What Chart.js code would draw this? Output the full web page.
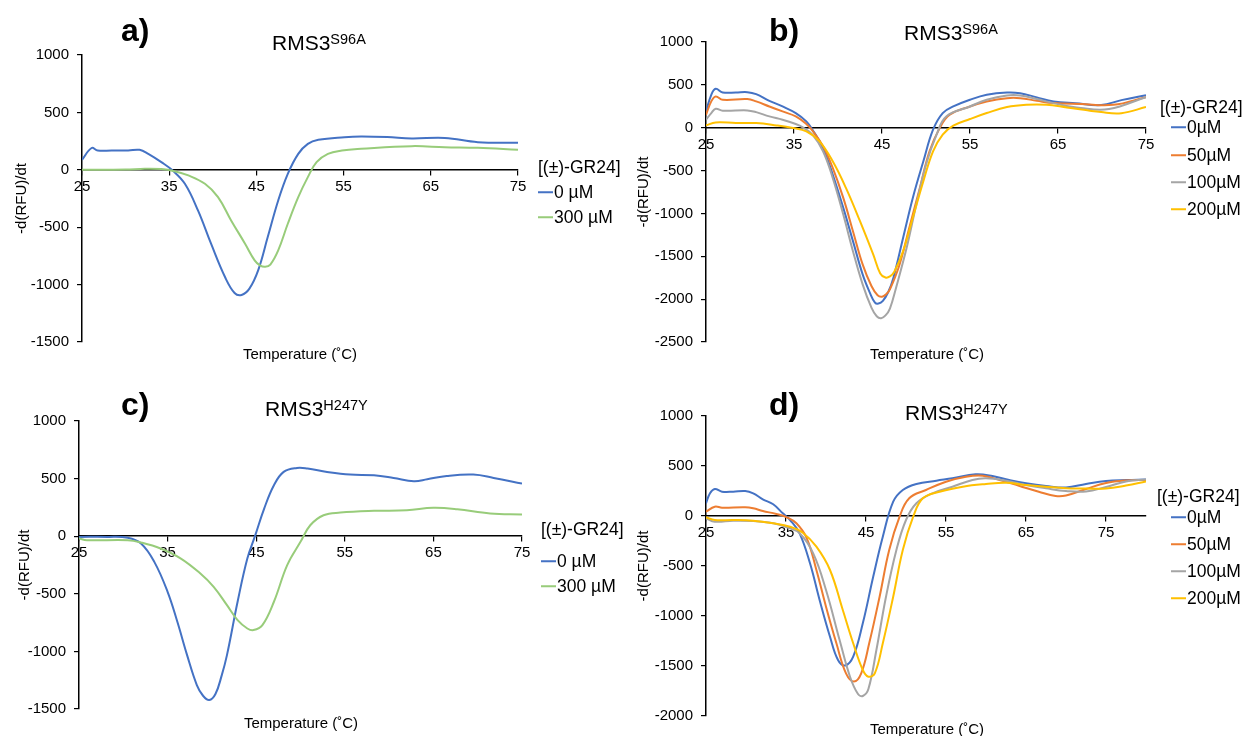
<!DOCTYPE html>
<html>
<head>
<meta charset="utf-8">
<script src="https://cdn.jsdelivr.net/npm/chart.js@4.4.1/dist/chart.umd.min.js"></script>
<style>
  body { margin: 0; background: #fff; font-family: 'Liberation Sans', Arial, sans-serif; color: #000; }
  #fig { position: relative; width: 1244px; height: 736px; overflow: hidden; }
  #fig canvas { position: absolute; }
  .lbl { position: absolute; line-height: 1; white-space: nowrap; z-index: 2; }
  .tag { font-weight: bold; font-size: 32px; }
  .ttl { font-size: 21px; }
  .ttl span { font-size: 14.5px; position: relative; top: -6.5px; }
  .xt { font-size: 15px; transform: translate(-50%, -50%); }
  .leg { font-size: 17.5px; transform: translateY(-50%); }
  .leg i { display: inline-block; width: 15px; height: 2px; vertical-align: middle; margin-right: 1px; position: relative; top: -1px; }
</style>
</head>
<body>
<div id="fig"></div>
<script>
// melt curves, temperature (°C) and -d(RFU)/dt per series

// a) RMS3 S96A
const aT_0 = [25, 26.1, 26.8, 28.4, 30.3, 31.6, 32.6, 34.1, 35.4, 36.8, 38.3, 39.8, 41.4, 42.5, 43.3, 44.2, 45.2, 46.3, 47.5, 48.6, 49.8, 50.9, 52.1, 55.1, 57, 60, 62.8, 66.6, 70.4, 75];
const aY_0 = [87, 190, 168, 168, 168, 174, 139, 67, -6, -122, -354, -644, -934, -1073, -1090, -1035, -876, -586, -267, -35, 139, 226, 261, 284, 290, 285, 273, 278, 241, 235];
const aT_300 = [25, 30, 32.2, 34.1, 35.6, 37.2, 39.1, 40.6, 42.1, 43.7, 44.8, 45.4, 46, 46.6, 47.5, 48.6, 49.8, 50.9, 51.9, 53.2, 54.8, 57, 62.8, 66.6, 70.4, 75];
const aY_300 = [0, 2, 9, 6, -12, -49, -122, -238, -441, -644, -789, -832, -845, -825, -702, -470, -238, -64, 67, 139, 168, 183, 206, 197, 191, 174];

// b) RMS3 S96A, dose series
const bT_0 = [25, 25.6, 26.1, 26.9, 28.4, 29.7, 30.7, 32.2, 33.7, 35.2, 36.4, 37.1, 38.3, 39.4, 40.6, 41.7, 42.8, 43.6, 44.2, 44.6, 45.1, 45.7, 46.3, 47.4, 48.5, 49.7, 50.8, 51.9, 53.1, 55, 56.9, 59.2, 60.7, 62.6, 64.5, 67, 69.9, 72.2, 75];
const bY_0 = [190, 384, 454, 411, 411, 415, 392, 314, 248, 171, 74, -23, -237, -547, -935, -1323, -1711, -1920, -2040, -2052, -2020, -1920, -1750, -1284, -819, -392, -23, 171, 248, 326, 384, 411, 403, 353, 306, 285, 265, 322, 380];
const bT_50 = [25, 25.6, 26.1, 26.9, 29.7, 30.7, 32.2, 33.7, 35.2, 36.4, 37.1, 38.3, 39.4, 40.6, 41.7, 42.8, 43.8, 44.5, 45, 45.5, 45.9, 47, 48.1, 49.3, 50.4, 51.6, 52.7, 55, 56.9, 59.2, 60.7, 62.6, 64.5, 67.6, 71.3, 75];
const bY_50 = [151, 307, 365, 326, 334, 307, 248, 190, 132, 43, -35, -217, -469, -819, -1207, -1595, -1847, -1955, -1972, -1940, -1886, -1595, -1168, -702, -275, 4, 151, 248, 307, 345, 345, 314, 287, 276, 267, 357];
const bT_100 = [25, 25.6, 26.1, 26.9, 29.7, 30.7, 32.2, 33.7, 35.2, 36, 37.1, 38.3, 39.4, 40.6, 41.7, 42.8, 43.8, 44.4, 44.9, 45.4, 45.9, 46.6, 47.8, 48.9, 50, 51.2, 52.3, 55, 56.9, 59.2, 60.7, 62.6, 64.5, 67.6, 70.8, 75];
const bY_100 = [93, 171, 221, 198, 202, 182, 132, 93, 43, 4, -81, -275, -586, -1013, -1440, -1827, -2099, -2200, -2222, -2190, -2110, -1866, -1401, -896, -431, -81, 132, 248, 326, 376, 376, 334, 287, 229, 218, 357];
const bT_200 = [25, 26.1, 28.4, 30.7, 33, 34.9, 36.4, 37.9, 39.4, 40.9, 42.5, 44, 44.8, 45.4, 45.9, 46.4, 47.4, 48.5, 49.7, 50.8, 51.9, 53.1, 55, 56.9, 59.2, 61.4, 63.7, 66, 69.9, 72.2, 75];
const bY_200 = [27, 62, 54, 54, 27, -4, -43, -159, -392, -702, -1090, -1478, -1700, -1748, -1735, -1680, -1440, -1051, -625, -275, -81, 23, 101, 171, 241, 268, 268, 237, 183, 170, 241];

// c) RMS3 H247Y
const cT_0 = [25, 28.2, 30.5, 32, 33.5, 35, 36.1, 37.2, 38.3, 39, 39.7, 40.4, 41.1, 41.7, 42.9, 44, 44.9, 45.9, 47, 48.1, 49.6, 50.8, 53, 55.6, 58.3, 60.5, 62.8, 64.3, 66.5, 69.5, 71.8, 75];
const cY_0 = [-6, -6, -14, -64, -223, -483, -743, -1032, -1292, -1385, -1422, -1370, -1210, -1032, -569, -194, 9, 240, 442, 558, 592, 587, 558, 535, 529, 506, 477, 494, 523, 535, 506, 457];
const cT_300 = [25, 25.9, 30.5, 32, 34.2, 36.5, 38.7, 40.2, 41.7, 42.9, 44, 44.7, 45.7, 47, 48.5, 50, 51.1, 52.6, 54.5, 58.3, 62, 65, 67.7, 71.4, 75];
const cY_300 = [-20, -35, -35, -55, -107, -194, -324, -439, -598, -728, -801, -815, -772, -569, -251, -49, 95, 182, 205, 220, 225, 246, 234, 197, 188];

// d) RMS3 H247Y, dose series
const dT_0 = [25, 25.5, 26.1, 27, 28.4, 29.9, 30.9, 32.1, 33.4, 34.6, 35.5, 36.7, 38, 39.2, 40.5, 41.5, 42.4, 43.4, 44.6, 45.9, 47.1, 48.4, 49.6, 51.3, 53.8, 55.8, 58.7, 60.8, 62.9, 65, 67.5, 70, 72.5, 75, 77.5, 80];
const dY_0 = [127, 227, 270, 243, 243, 250, 227, 167, 117, 27, -40, -173, -473, -840, -1207, -1440, -1495, -1407, -1073, -607, -207, 143, 260, 320, 353, 377, 417, 400, 360, 327, 300, 285, 320, 350, 360, 365];
const dT_50 = [25, 26.1, 27, 29.9, 30.9, 32.1, 33.8, 35.1, 36.3, 37.6, 38.8, 40, 41.3, 42.5, 43.5, 44.4, 45.4, 46.7, 47.9, 49.2, 50.4, 52.5, 55, 57.5, 59.6, 61.7, 64.2, 66.6, 68.7, 70, 72.5, 75, 77.5, 80];
const dY_50 = [43, 93, 83, 87, 77, 50, 20, -13, -73, -223, -540, -907, -1273, -1573, -1655, -1573, -1273, -807, -340, -7, 177, 260, 343, 393, 403, 360, 300, 243, 200, 205, 270, 330, 355, 360];
const dT_100 = [25, 26.1, 28.4, 30.9, 33.4, 35.1, 36.7, 38.4, 40, 41.7, 43, 44, 44.6, 45.3, 46.3, 47.5, 48.8, 50, 51.3, 53.3, 55.8, 58.3, 60, 62.5, 65, 67.5, 70, 72.5, 75, 77.5, 80];
const dY_100 = [-23, -57, -47, -50, -73, -113, -173, -373, -740, -1240, -1607, -1780, -1800, -1730, -1340, -807, -340, -40, 127, 227, 293, 360, 377, 353, 310, 277, 250, 245, 290, 345, 365];
const dT_200 = [25, 26.1, 28.4, 30.9, 33.4, 35.5, 37.1, 38.8, 40.5, 42.1, 43.4, 44.6, 45.3, 46.1, 47.1, 48.4, 49.6, 50.9, 52.1, 54.2, 57.1, 60, 62.5, 65, 67.5, 70, 72.5, 75, 77.5, 80];
const dY_200 = [-13, -40, -40, -47, -73, -107, -167, -307, -540, -940, -1273, -1540, -1607, -1573, -1273, -807, -340, -7, 177, 243, 293, 320, 333, 310, 293, 277, 275, 275, 305, 345];

// tick values and axis ends
const xTicks = [25, 35, 45, 55, 65, 75];
const xMaxABC = 75;
const xMaxD = 80;
const yTicksAC = [-1500, -1000, -500, 0, 500, 1000];
const yTicksB = [-2500, -2000, -1500, -1000, -500, 0, 500, 1000];
const yTicksD = [-2000, -1500, -1000, -500, 0, 500, 1000];

// legend text
const legendTitle = '[(±)-GR24]';
const dosesAC = ['0 µM', '300 µM'];
const dosesBD = ['0µM', '50µM', '100µM', '200µM'];
const colorsAC = ['#4472C4', '#98CC7A'];
const colorsBD = ['#4472C4', '#ED7D31', '#A5A5A5', '#FFC000'];

Chart.defaults.font.family = "'Liberation Sans', Arial, sans-serif";
Chart.defaults.color = '#000';

const fig = document.getElementById('fig');

function addText(cls, x, y, html) {
  const el = document.createElement('div');
  el.className = 'lbl ' + cls;
  el.style.left = x + 'px';
  el.style.top = y + 'px';
  el.innerHTML = html;
  fig.appendChild(el);
}

function addLegend(titleX, lineX, titleY, rowYs, labels, colors) {
  addText('leg', titleX, titleY, legendTitle);
  labels.forEach((lab, i) => {
    addText('leg', lineX, rowYs[i], '<i style="background:' + colors[i] + '"></i>' + lab);
  });
}

function zip(ts, ys) {
  return ts.map((t, i) => ({ x: t, y: ys[i] }));
}

function makePanel(p) {
  const cv = document.createElement('canvas');
  cv.width = p.w;
  cv.height = p.h;
  cv.style.left = p.left + 'px';
  cv.style.top = p.top + 'px';
  fig.appendChild(cv);

  const n = p.series.length;
  const datasets = p.series.map((s, i) => ({
    label: s.label,
    data: zip(s.t, s.y),
    borderColor: s.color,
    borderWidth: 2,
    pointRadius: 0,
    tension: 0.4,
    fill: false,
    order: n - i   // later series drawn on top
  }));

  new Chart(cv.getContext('2d'), {
    type: 'line',
    data: { datasets },
    options: {
      responsive: false,
      animation: false,
      layout: {
        autoPadding: false,
        padding: { left: 0, top: p.area.t, right: p.w - p.area.r, bottom: p.h - p.area.b }
      },
      plugins: { legend: { display: false }, tooltip: { enabled: false } },
      scales: {
        x: {
          type: 'linear',
          position: { y: 0 },
          min: xTicks[0],
          max: p.xMax,
          afterBuildTicks: (s) => { s.ticks = xTicks.map(v => ({ value: v })); },
          ticks: {
            autoSkip: false,
            maxRotation: 0,
            padding: 3,
            font: { size: 15 },
            callback: (v) => String(v)
          },
          grid: { drawOnChartArea: false, tickLength: 5, color: '#000', lineWidth: 1.2 },
          border: { color: '#000', width: 1.5 }
        },
        y: {
          min: p.yTicks[0],
          max: p.yTicks[p.yTicks.length - 1],
          afterBuildTicks: (s) => { s.ticks = p.yTicks.map(v => ({ value: v })); },
          afterFit: (s) => { s.width = p.area.l; },
          ticks: { padding: 8, font: { size: 15 }, callback: (v) => String(v) },
          grid: { drawOnChartArea: false, tickLength: 5, color: '#000', lineWidth: 1.2 },
          border: { color: '#000', width: 1.5 },
          title: {
            display: true,
            text: '-d(RFU)/dt',
            font: { size: 15 },
            padding: { top: p.yTitlePad, bottom: 0 }
          }
        }
      }
    }
  });
}

function series(ts, ys, labels, colors) {
  return ts.map((t, i) => ({ t, y: ys[i], label: labels[i], color: colors[i] }));
}

makePanel({
  left: 0, top: 0, w: 600, h: 368,
  area: { l: 82, t: 55, r: 518, b: 342 }, yTitlePad: 13,
  xMax: xMaxABC, yTicks: yTicksAC,
  series: series([aT_0, aT_300], [aY_0, aY_300], dosesAC, colorsAC)
});
makePanel({
  left: 620, top: 0, w: 624, h: 368,
  area: { l: 86, t: 42, r: 526, b: 342 }, yTitlePad: 15,
  xMax: xMaxABC, yTicks: yTicksB,
  series: series([bT_0, bT_50, bT_100, bT_200], [bY_0, bY_50, bY_100, bY_200], dosesBD, colorsBD)
});
makePanel({
  left: 0, top: 368, w: 600, h: 368,
  area: { l: 79, t: 53, r: 522, b: 341 }, yTitlePad: 16,
  xMax: xMaxABC, yTicks: yTicksAC,
  series: series([cT_0, cT_300], [cY_0, cY_300], dosesAC, colorsAC)
});
makePanel({
  left: 620, top: 368, w: 624, h: 368,
  area: { l: 86, t: 48, r: 526, b: 348 }, yTitlePad: 15,
  xMax: xMaxD, yTicks: yTicksD,
  series: series([dT_0, dT_50, dT_100, dT_200], [dY_0, dY_50, dY_100, dY_200], dosesBD, colorsBD)
});

// panel letters and headings
addText('tag', 121, 14, 'a)');
addText('tag', 769, 14, 'b)');
addText('tag', 121, 388, 'c)');
addText('tag', 769, 388, 'd)');
addText('ttl', 272, 32, 'RMS3<span>S96A</span>');
addText('ttl', 904, 22, 'RMS3<span>S96A</span>');
addText('ttl', 265, 398, 'RMS3<span>H247Y</span>');
addText('ttl', 905, 402, 'RMS3<span>H247Y</span>');

// x axis titles
addText('xt', 300, 353, 'Temperature (˚C)');
addText('xt', 927, 353, 'Temperature (˚C)');
addText('xt', 301, 722, 'Temperature (˚C)');
addText('xt', 927, 728, 'Temperature (˚C)');

// legends
addLegend(538, 538, 168, [193, 218], dosesAC, colorsAC);
addLegend(1160, 1171, 108, [128, 156, 183, 210], dosesBD, colorsBD);
addLegend(541, 541, 530, [562, 587], dosesAC, colorsAC);
addLegend(1157, 1171, 497, [518, 545, 572, 599], dosesBD, colorsBD);
</script>
</body>
</html>
